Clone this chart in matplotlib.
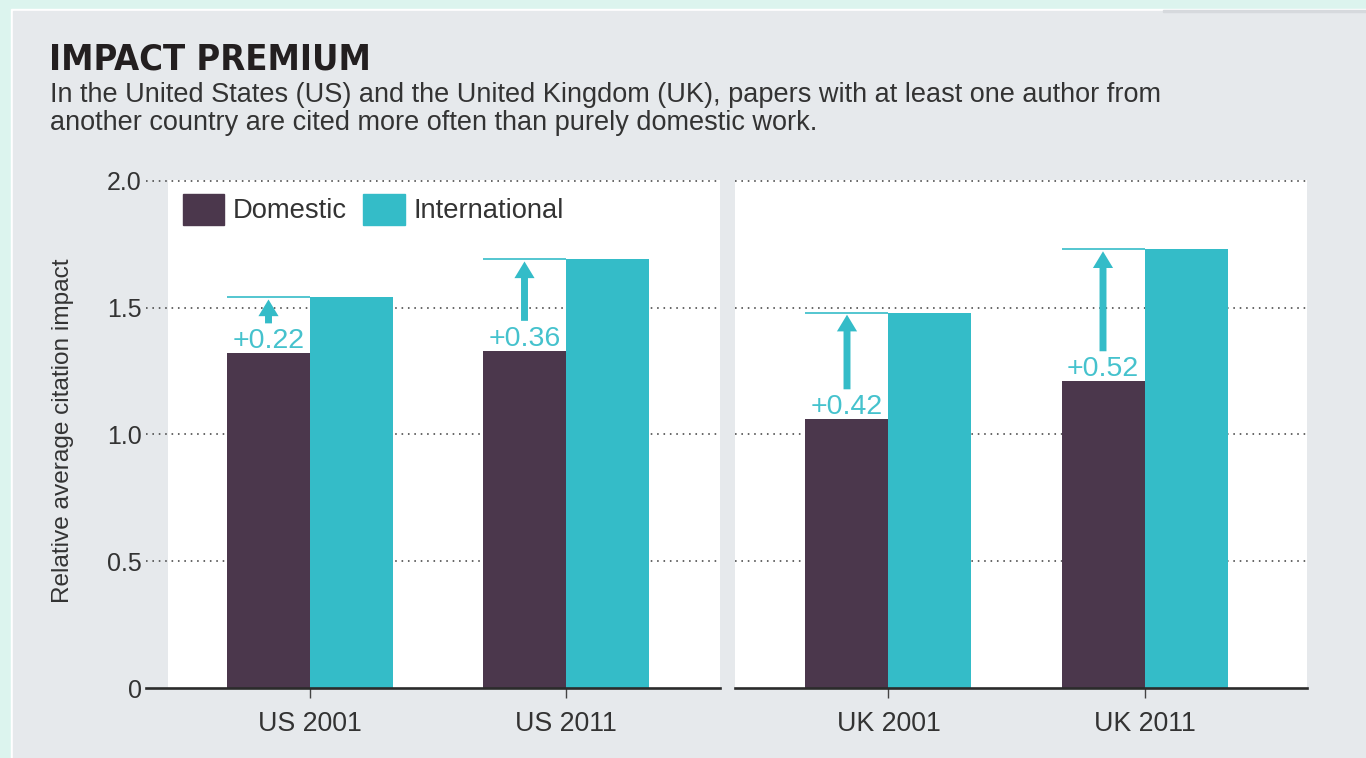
import matplotlib
matplotlib.use("Agg")
import matplotlib.pyplot as plt
from matplotlib.patches import Rectangle, Patch
from matplotlib import font_manager

# data
panels = [["US 2001", "US 2011"], ["UK 2001", "UK 2011"]]
domestic = [[1.32, 1.33], [1.06, 1.21]]
international = [[1.54, 1.69], [1.48, 1.73]]
premium_labels = [["+0.22", "+0.36"], ["+0.42", "+0.52"]]
y_ticks = [0, 0.5, 1.0, 1.5, 2.0]
y_tick_labels = ["0", "0.5", "1.0", "1.5", "2.0"]

W, H = 1366, 758
DOM = "#4b374c"
INTL = "#34bcc8"
INTL_TEXT = "#45c2cd"
BG = "#e6e9ec"
MINT = "#dcf4ee"
TXT = "#333333"

plt.rcParams["font.family"] = ["Liberation Sans", "DejaVu Sans"]


def pick_font(names):
    for n in names:
        try:
            font_manager.findfont(font_manager.FontProperties(family=n), fallback_to_default=False)
            return n
        except Exception:
            pass
    return "DejaVu Sans"


title_font = pick_font(["Liberation Sans Narrow", "DejaVu Sans"])


def fx(x):
    return x / W


def fy(y):
    return 1 - y / H


fig = plt.figure(figsize=(W / 100, H / 100), dpi=100)
fig.patch.set_facecolor(MINT)
# white edge + grey card
fig.patches.append(Rectangle((fx(11), 0), 1, fy(9), transform=fig.transFigure, color="white", zorder=-3))
fig.patches.append(Rectangle((fx(13), 0), 1, fy(11), transform=fig.transFigure, color=BG, zorder=-2))
fig.patches.append(Rectangle((fx(1163), fy(12)), 1, 2 / H, transform=fig.transFigure, color="#d6d9dd", zorder=-1))

fig.text(fx(49), fy(70), "IMPACT PREMIUM", fontsize=26, fontweight="bold",
         family=title_font, fontstretch="condensed", color="#231f20", va="baseline")
fig.text(fx(50), fy(102), "In the United States (US) and the United Kingdom (UK), papers with at least one author from",
         fontsize=19.5, color=TXT, va="baseline")
fig.text(fx(50), fy(130), "another country are cited more often than purely domestic work.",
         fontsize=19.5, color=TXT, va="baseline")
fig.text(fx(63), fy(431), "Relative average citation impact", rotation=90, fontsize=17.6,
         color=TXT, ha="center", va="center")

bar_w = 83 / 256
# axes rectangles in pixels: left, right, white start, first group centre
boxes = [(146, 720, 168, 310), (735, 1307, 735, 888.5)]

axes = []
for p, (x0, x1, xw, c0) in enumerate(boxes):
    ax = fig.add_axes([fx(x0), fy(688), (x1 - x0) / W, (688 - 180) / H])
    ax.set_facecolor(BG)
    ax.set_xlim((x0 - c0) / 256, (x1 - c0) / 256)
    ax.set_ylim(0, 2.003)
    ax.axvspan((xw - c0) / 256, (x1 - c0) / 256, color="white", zorder=0, lw=0)
    for t in y_ticks[1:]:
        ax.axhline(t, color="#444444", lw=1.15, linestyle=(0, (1, 3)), zorder=1, clip_on=False)

    pos = list(range(len(panels[p])))
    ax.bar([i - bar_w / 2 for i in pos], domestic[p], width=bar_w, color=DOM, zorder=2)
    ax.bar([i + bar_w / 2 for i in pos], international[p], width=bar_w, color=INTL, zorder=2)

    for i in pos:
        xc = i - bar_w / 2
        ax.hlines(international[p][i], i - bar_w, i, color=INTL_TEXT, lw=1.3, zorder=3)
        ax.annotate(premium_labels[p][i], (xc, domestic[p][i]), xytext=(0, 3.5),
                    textcoords="offset points", ha="center", va="baseline",
                    fontsize=20.5, color=INTL_TEXT, zorder=4)
        ax.annotate("", xy=(xc, international[p][i]), xytext=(xc, domestic[p][i]),
                    arrowprops=dict(arrowstyle="simple,head_length=1.2,head_width=1.45,tail_width=0.5",
                                    fc=INTL, ec="none", shrinkA=21.5, shrinkB=1.5,
                                    mutation_scale=10), zorder=4)

    ax.set_xticks(pos)
    ax.set_xticklabels(panels[p], fontsize=19.3, color=TXT)
    ax.tick_params(axis="x", length=7, width=1, color="#444444", pad=9.5)
    for s in ["top", "right", "left"]:
        ax.spines[s].set_visible(False)
    ax.spines["bottom"].set_linewidth(1.9)
    ax.spines["bottom"].set_color("#2b2b2b")
    ax.spines["bottom"].set_zorder(5)
    if p == 0:
        ax.set_yticks(y_ticks)
        ax.set_yticklabels(y_tick_labels, fontsize=18, color=TXT)
        ax.tick_params(axis="y", length=0, pad=3)
    else:
        ax.set_yticks([])
    axes.append(ax)

handles = [Patch(color=DOM, label="Domestic"), Patch(color=INTL, label="International")]
axes[0].legend(handles=handles, loc="upper left", bbox_to_anchor=(fx(183), fy(194)),
               bbox_transform=fig.transFigure, ncol=2, frameon=False, fontsize=19.7,
               borderpad=0, borderaxespad=0, handlelength=1.5, handleheight=1.35,
               handletextpad=0.33, columnspacing=0.6, labelcolor=TXT)

fig.savefig("out.png", dpi=100, facecolor=fig.get_facecolor())
